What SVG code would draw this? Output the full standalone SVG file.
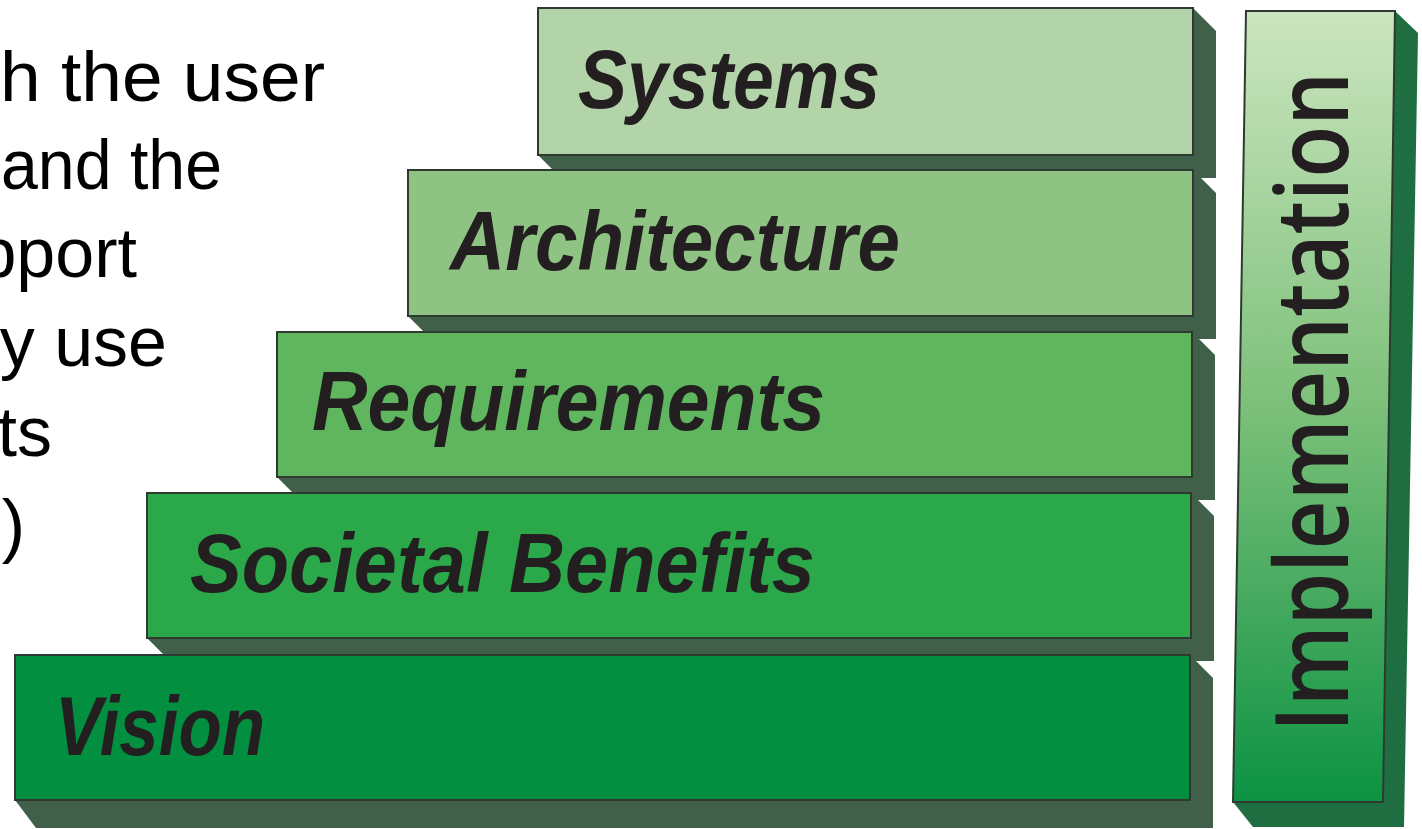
<svg xmlns="http://www.w3.org/2000/svg" width="1422" height="829" viewBox="0 0 1422 829">
<defs>
<linearGradient id="impl" x1="0" y1="0" x2="0" y2="1">
<stop offset="0" stop-color="#cce5bf"/>
<stop offset="0.5" stop-color="#7cc07a"/>
<stop offset="1" stop-color="#0c9243"/>
</linearGradient>
<style>
.side{fill:#41604a}
.face{stroke:#2e3a30;stroke-width:2}
.lbl{font-family:"Liberation Sans",Arial,sans-serif;font-weight:bold;font-style:italic;font-size:84px;fill:#231f20}
.body{font-family:"Liberation Sans",Arial,sans-serif;font-size:70px;fill:#000}
</style>
</defs>
<rect width="1422" height="829" fill="#fff"/>
<g id="bodytext" class="body">
<text x="0" y="101" textLength="325" lengthAdjust="spacingAndGlyphs">h the user</text>
<text x="1" y="189" textLength="221" lengthAdjust="spacingAndGlyphs">and the</text>
<text x="137" y="277" text-anchor="end">pport</text>
<text x="167" y="366" text-anchor="end">y use</text>
<text x="52" y="456" text-anchor="end">ts</text>
<text x="25" y="549" text-anchor="end">)</text>
</g>
<g id="systems">
<polygon class="side" points="1193,8 1216,31 1216,178 561,178 538,155"/>
<rect class="face" x="538" y="8" width="655" height="147" fill="#b3d4a8"/>
<text class="lbl" x="578" y="108" textLength="302" lengthAdjust="spacingAndGlyphs">Systems</text>
</g>
<g id="architecture">
<polygon class="side" points="1193,170 1216,193 1216,339 431,339 408,316"/>
<rect class="face" x="408" y="170" width="785" height="146" fill="#8fc383"/>
<text class="lbl" x="450" y="270" textLength="450" lengthAdjust="spacingAndGlyphs">Architecture</text>
</g>
<g id="requirements">
<polygon class="side" points="1192,332 1215,355 1215,500 300,500 277,477"/>
<rect class="face" x="277" y="332" width="915" height="145" fill="#5fb65f"/>
<text class="lbl" x="312" y="430" textLength="513" lengthAdjust="spacingAndGlyphs">Requirements</text>
</g>
<g id="societal">
<polygon class="side" points="1191,493 1214,516 1214,661 170,661 147,638"/>
<rect class="face" x="147" y="493" width="1044" height="145" fill="#2aa84a"/>
<text class="lbl" x="190" y="592" textLength="625" lengthAdjust="spacingAndGlyphs">Societal Benefits</text>
</g>
<g id="vision">
<polygon class="side" points="1190,655 1213,678 1213,828 36,828 15,800"/>
<rect class="face" x="15" y="655" width="1175" height="145" fill="#029040"/>
<text class="lbl" x="55" y="755" textLength="210" lengthAdjust="spacingAndGlyphs">Vision</text>
</g>
<g id="implementation">
<polygon points="1395,11 1418,33 1404,827 1253,827 1233,802" fill="#1f6e41"/>
<polygon class="face" points="1246,11 1395,11 1383,802 1233,802" fill="url(#impl)"/>
<text transform="translate(1348,732) rotate(-90)" font-family="'Open Sans','Liberation Sans',Arial,sans-serif" font-weight="600" font-size="102" fill="#231f20" textLength="660" lengthAdjust="spacingAndGlyphs">Implementation</text>
</g>
<g id="connectors"></g>
</svg>
